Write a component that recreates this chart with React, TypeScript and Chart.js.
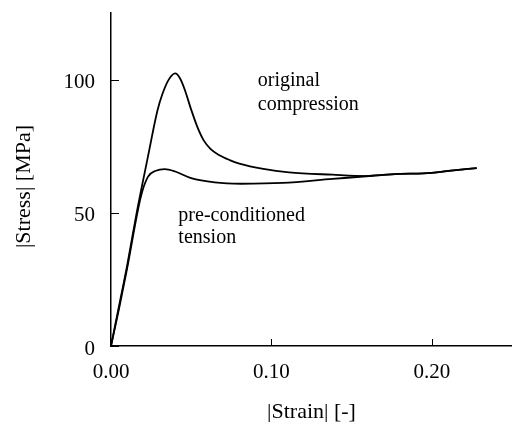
import React, { useEffect, useRef } from "react";
import { Chart, registerables } from "chart.js";

Chart.register(...registerables);

// Original compression curve
const compressionStrain = [0, 0.005, 0.010, 0.016, 0.023, 0.029, 0.032, 0.036, 0.040, 0.043, 0.046, 0.050, 0.054, 0.058, 0.062, 0.067, 0.074, 0.080, 0.095, 0.111, 0.138, 0.159, 0.179, 0.195, 0.212, 0.228];
const compressionStress = [0, 15, 30, 50, 71, 88.5, 94.5, 100, 102.3, 100.5, 96.2, 88.7, 82, 77, 74, 71.8, 69.8, 68.5, 66.5, 65.2, 64.3, 63.8, 64.6, 64.8, 65.8, 66.8];

// Pre-conditioned tension curve
const tensionStrain = [0, 0.005, 0.010, 0.0186, 0.023, 0.028, 0.0335, 0.040, 0.050, 0.0646, 0.081, 0.107, 0.138, 0.163, 0.179, 0.195, 0.212, 0.228];
const tensionStress = [0, 14, 29, 56, 63.5, 65.8, 66.4, 65.5, 63.0, 61.4, 60.9, 61.2, 62.7, 63.9, 64.6, 64.8, 65.8, 66.8];

const xTickValues = [0, 0.1, 0.2];
const yTickValues = [0, 50, 100];

const yTitle = "|Stress| [MPa]";
const xTitle = "|Strain| [-]";

const annotationTexts = ["original", "compression", "pre-conditioned", "tension"];
const annotationStrain = [0.0915, 0.0915, 0.042, 0.042];
const annotationStress = [97.7, 88.6, 46.9, 38.6];

const FONT = '"Liberation Serif", "Times New Roman", serif';

const decorations = {
  id: "decorations",
  afterDraw(chart: any) {
    const ctx = chart.ctx;
    const xs = chart.scales.x;
    const ys = chart.scales.y;
    const area = chart.chartArea;
    ctx.save();
    ctx.strokeStyle = "#000";
    ctx.lineWidth = 1;
    xTickValues.forEach((v) => {
      const px = Math.round(xs.getPixelForValue(v)) + 0.5;
      ctx.beginPath();
      ctx.moveTo(px, area.bottom);
      ctx.lineTo(px, area.bottom - 7);
      ctx.stroke();
    });
    yTickValues.forEach((v) => {
      const py = Math.round(ys.getPixelForValue(v)) + 0.5;
      ctx.beginPath();
      ctx.moveTo(area.left, py);
      ctx.lineTo(area.left + 8, py);
      ctx.stroke();
    });
    ctx.fillStyle = "#000";
    ctx.font = `20px ${FONT}`;
    ctx.textAlign = "left";
    ctx.textBaseline = "alphabetic";
    annotationTexts.forEach((t, i) => {
      ctx.fillText(t, xs.getPixelForValue(annotationStrain[i]), ys.getPixelForValue(annotationStress[i]));
    });
    // y axis title
    ctx.font = `22px ${FONT}`;
    ctx.textAlign = "center";
    ctx.textBaseline = "middle";
    ctx.translate(24, (area.top + area.bottom) / 2 + 7);
    ctx.rotate(-Math.PI / 2);
    ctx.fillText(yTitle, 0, 0);
    ctx.restore();
  },
};

export default function App() {
  const ref = useRef<HTMLCanvasElement | null>(null);
  useEffect(() => {
    if (!ref.current) return;
    const toPts = (xs: number[], ys: number[]) => xs.map((x, i) => ({ x, y: ys[i] }));
    const zeroPad = (s: any) => {
      s.paddingTop = 0;
      s.paddingBottom = 0;
      s.paddingLeft = 0;
      s.paddingRight = 0;
    };
    const chart = new Chart(ref.current, {
      type: "line",
      data: {
        datasets: [
          {
            label: "original compression",
            data: toPts(compressionStrain, compressionStress),
            borderColor: "#000",
            borderWidth: 1.8,
            pointRadius: 0,
            cubicInterpolationMode: "monotone",
            fill: false,
          },
          {
            label: "pre-conditioned tension",
            data: toPts(tensionStrain, tensionStress),
            borderColor: "#000",
            borderWidth: 1.8,
            pointRadius: 0,
            cubicInterpolationMode: "monotone",
            fill: false,
          },
        ],
      },
      options: {
        animation: false,
        responsive: false,
        devicePixelRatio: 1,
        layout: { padding: { top: 13, right: 0, left: 0, bottom: 0 } },
        plugins: { legend: { display: false }, tooltip: { enabled: false } },
        scales: {
          x: {
            type: "linear",
            min: 0,
            max: 0.25,
            afterFit: (s: any) => { s.height = 76; zeroPad(s); },
            afterBuildTicks: (s: any) => { s.ticks = xTickValues.map((v) => ({ value: v })); },
            grid: { display: false, drawTicks: false },
            border: { display: true, color: "#000", width: 1.5 },
            ticks: {
              includeBounds: false,
              color: "#000",
              font: { family: FONT, size: 21 },
              padding: 14,
              maxRotation: 0,
              callback: (v: any) => Number(v).toFixed(2),
            },
            title: {
              display: true,
              text: xTitle,
              color: "#000",
              font: { family: FONT, size: 22, lineHeight: 0.85 },
              padding: 0,
            },
          },
          y: {
            min: 0,
            max: 125,
            afterFit: (s: any) => { s.width = 111; zeroPad(s); },
            afterBuildTicks: (s: any) => { s.ticks = yTickValues.map((v) => ({ value: v })); },
            grid: { display: false, drawTicks: false },
            border: { display: true, color: "#000", width: 1.5 },
            ticks: {
              includeBounds: false,
              color: "#000",
              font: { family: FONT, size: 21 },
              padding: 16,
              labelOffset: 3,
            },
            title: { display: false },
          },
        },
      },
      plugins: [decorations],
    } as any);
    return () => chart.destroy();
  }, []);
  return (
    <div style={{ position: "fixed", left: 0, top: 0, width: 512, height: 422, background: "#fff" }}>
      <canvas ref={ref} width={512} height={422} />
    </div>
  );
}
